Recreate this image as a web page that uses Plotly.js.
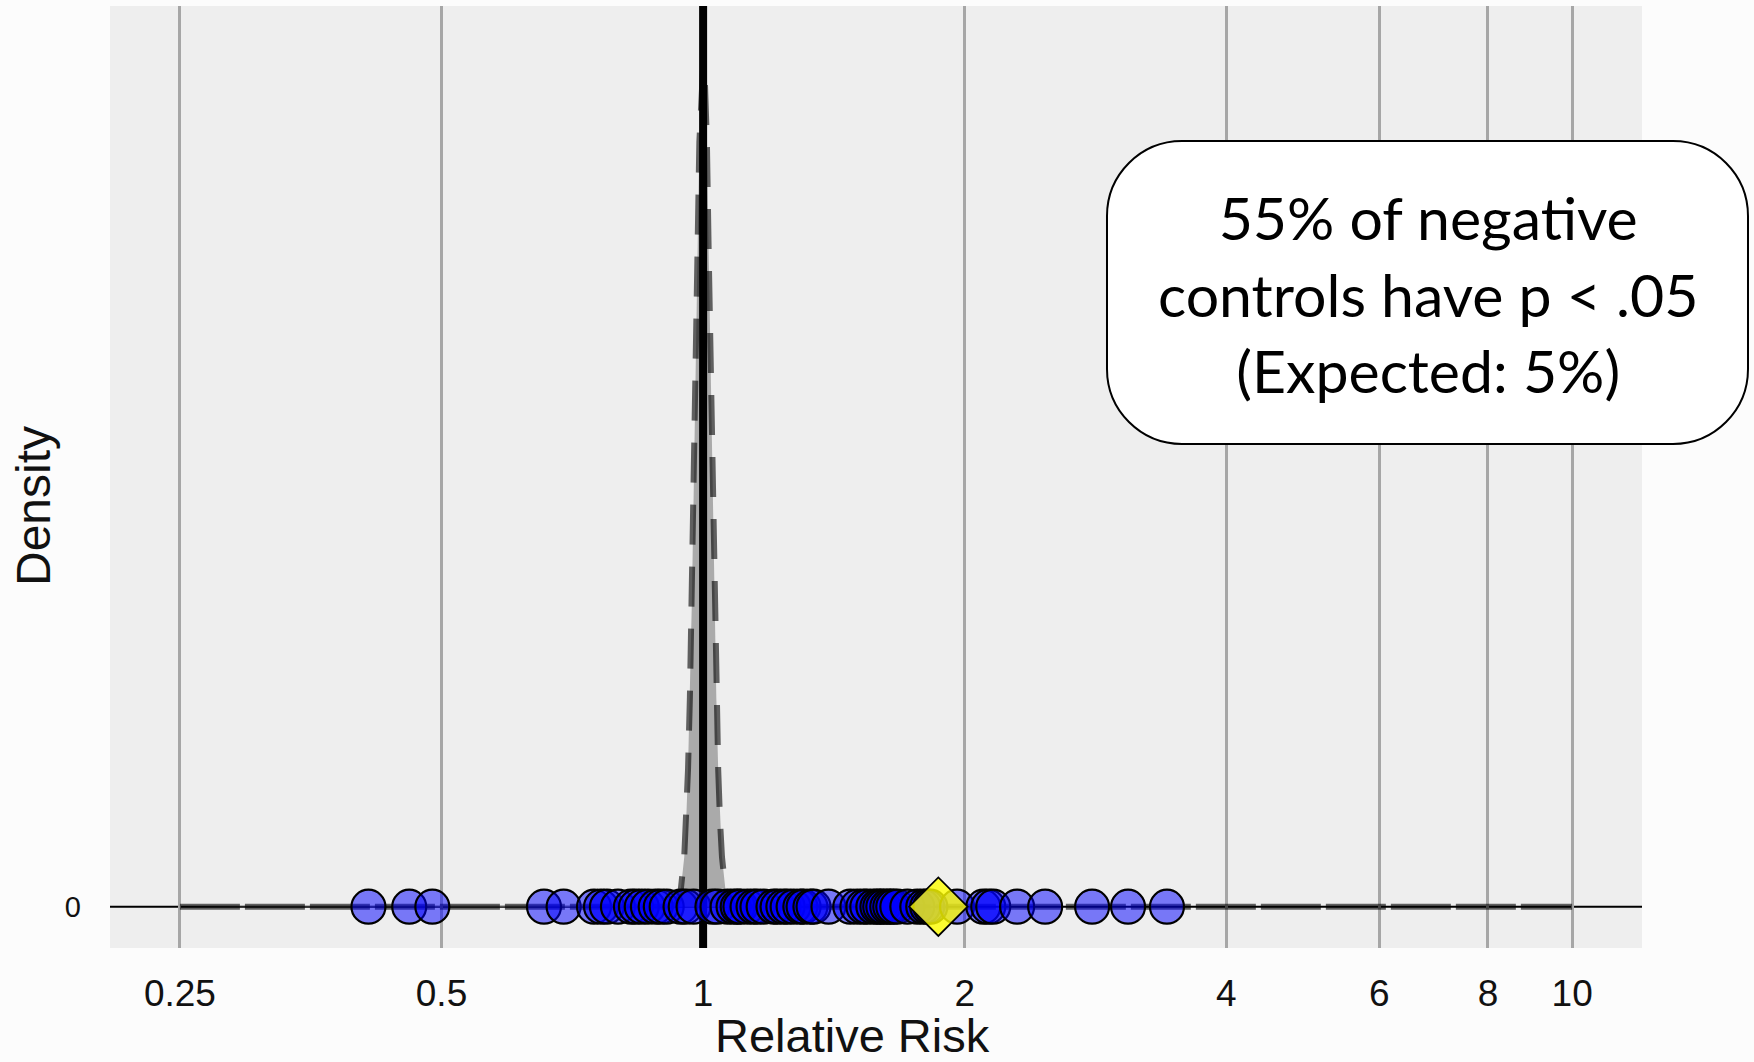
<!DOCTYPE html>
<html>
<head>
<meta charset="utf-8">
<script src="https://cdn.plot.ly/plotly-3.0.1.min.js"></script>
<style>
  html, body { margin: 0; padding: 0; background: #FCFCFC; }
  #chart { width: 1754px; height: 1062px; }
</style>
</head>
<body>
<div id="chart"></div>
<script>
// ---------------- data ----------------
const tickValues = [0.25, 0.5, 1, 2, 4, 6, 8, 10];
const tickLabels = ["0.25", "0.5", "1", "2", "4", "6", "8", "10"];

// negative-control relative risk estimates
const negativeControlRR = [
  0.412, 0.459, 0.488,
  0.656, 0.691, 0.749, 0.763, 0.775, 0.798, 0.826, 0.837, 0.850, 0.864, 0.882, 0.894, 0.908, 0.942, 0.955, 0.975,
  1.025, 1.039, 1.067, 1.084, 1.096, 1.104, 1.125, 1.143, 1.155, 1.174, 1.205, 1.218, 1.237, 1.251, 1.271, 1.294, 1.305, 1.329, 1.340,
  1.394,
  1.477, 1.505, 1.529, 1.545, 1.570, 1.587, 1.599, 1.612, 1.629, 1.642, 1.655, 1.673, 1.718, 1.764, 1.792, 1.811, 1.826,
  1.960,
  2.101, 2.129, 2.157, 2.298, 2.475, 2.803, 3.083, 3.418
];

// estimate of interest (yellow diamond)
const focusRR = [1.865];

// fitted null distribution (density curve)
const densityRR = [0.25, 0.5, 0.8, 0.9048, 0.9231, 0.9324, 0.9418, 0.9512, 0.9560, 0.9608, 0.9656, 0.9705,
  0.9753, 0.9802, 0.9851, 0.9901, 0.9950, 1.0000, 1.0050, 1.0101, 1.0151, 1.0202, 1.0253, 1.0305,
  1.0356, 1.0408, 1.0460, 1.0513, 1.0618, 1.0725, 1.0833, 1.1052, 1.5, 4, 10];
const densityValue = [0, 0, 0, 0, 0.013, 0.073, 0.32, 1.12, 1.91, 3.10, 4.74, 6.85,
  9.35, 12.07, 14.72, 17.3, 18.6, 19.0, 18.6, 17.3, 14.72, 12.07, 9.35, 6.85,
  4.74, 3.10, 1.91, 1.12, 0.32, 0.073, 0.013, 0, 0, 0, 0];

const referenceRR = 1;

const boxLines = ["55% of negative", "controls have p &lt; .05", "(Expected: 5%)"];
const xTitle = "Relative Risk";
const yTitle = "Density";

// ---------------- layout geometry ----------------
const W = 1754, H = 1062;
const M = { l: 110, r: 112, t: 6, b: 114 };
const plotW = W - M.l - M.r, plotH = H - M.t - M.b;
const px2x = px => (px - M.l) / plotW;
const px2y = py => (H - M.b - py) / plotH;

function roundedRectPath(x0, y0, x1, y1, r) {
  const k = 0.5523 * r;
  const P = (x, y) => px2x(x).toFixed(5) + "," + px2y(y).toFixed(5);
  return "M" + P(x0 + r, y0) +
    " L" + P(x1 - r, y0) +
    " C" + P(x1 - r + k, y0) + " " + P(x1, y0 + r - k) + " " + P(x1, y0 + r) +
    " L" + P(x1, y1 - r) +
    " C" + P(x1, y1 - r + k) + " " + P(x1 - r + k, y1) + " " + P(x1 - r, y1) +
    " L" + P(x0 + r, y1) +
    " C" + P(x0 + r - k, y1) + " " + P(x0, y1 - r + k) + " " + P(x0, y1 - r) +
    " L" + P(x0, y0 + r) +
    " C" + P(x0, y0 + r - k) + " " + P(x0 + r - k, y0) + " " + P(x0 + r, y0) + " Z";
}

// split the density curve into the flat tails and the central peak (for dash styling)
const peakLo = 0.9048, peakHi = 1.1052;
function subset(cond) {
  const xs = [], ys = [];
  densityRR.forEach((v, i) => { if (cond(v)) { xs.push(v); ys.push(densityValue[i]); } });
  return { x: xs, y: ys };
}
const leftTail = subset(v => v <= peakLo);
const rightTail = subset(v => v >= peakHi);
const peak = subset(v => v >= peakLo && v <= peakHi);

const yMin = -0.935, yMax = 20.38;
const dashColor = "rgba(0,0,0,0.6)";

const traces = [
  { // null distribution fill
    x: densityRR, y: densityValue, type: "scatter", mode: "lines",
    fill: "tozeroy", fillcolor: "#AAAAAA",
    line: { width: 0, color: "rgba(0,0,0,0)" }, hoverinfo: "skip", showlegend: false
  },
  { x: leftTail.x, y: leftTail.y, type: "scatter", mode: "lines",
    line: { color: dashColor, width: 6, dash: "60px,5px" }, hoverinfo: "skip", showlegend: false },
  { x: rightTail.x, y: rightTail.y, type: "scatter", mode: "lines",
    line: { color: dashColor, width: 6, dash: "60px,5px" }, hoverinfo: "skip", showlegend: false },
  { x: peak.x, y: peak.y, type: "scatter", mode: "lines",
    line: { color: dashColor, width: 6, dash: "40px,22px" }, hoverinfo: "skip", showlegend: false },
  { // reference line at RR = 1
    x: [referenceRR, referenceRR], y: [yMin - 5, yMax + 5], type: "scatter", mode: "lines",
    line: { color: "#000000", width: 8 }, hoverinfo: "skip", showlegend: false
  },
  { // negative controls
    x: negativeControlRR, y: negativeControlRR.map(() => 0), type: "scatter", mode: "markers",
    marker: { symbol: "circle", size: 34, color: "rgba(0,0,255,0.5)", line: { color: "#000000", width: 2.2 } },
    showlegend: false, cliponaxis: false
  },
  { // estimate
    x: focusRR, y: focusRR.map(() => 0), type: "scatter", mode: "markers",
    marker: { symbol: "diamond", size: 45, color: "rgba(255,255,0,0.8)", line: { color: "#000000", width: 1.8 } },
    showlegend: false, cliponaxis: false
  }
];

const layout = {
  width: W, height: H,
  margin: M,
  paper_bgcolor: "#FCFCFC",
  plot_bgcolor: "#EEEEEE",
  showlegend: false,
  xaxis: {
    type: "log",
    range: [-0.6825, 1.0804],
    tickvals: tickValues, ticktext: tickLabels,
    showgrid: true, gridcolor: "#A6A6A6", gridwidth: 3,
    zeroline: false, showline: false, ticks: "",
    ticklabelstandoff: 20,
    tickfont: { family: "Liberation Sans, Arial, sans-serif", size: 37, color: "#111111" }
  },
  yaxis: {
    range: [yMin, yMax],
    tickvals: [0], ticktext: ["0"],
    showgrid: false, zeroline: false, showline: false, ticks: "",
    ticklabelstandoff: 28,
    tickfont: { family: "Liberation Sans, Arial, sans-serif", size: 29, color: "#111111" }
  },
  shapes: [
    { type: "line", xref: "paper", yref: "y", x0: 0, x1: 1, y0: 0, y1: 0,
      line: { color: "#000000", width: 2 }, layer: "between" },
    { type: "path", xref: "paper", yref: "paper",
      path: roundedRectPath(1107, 141, 1748, 444, 75),
      fillcolor: "#FFFFFF", line: { color: "#000000", width: 2 }, layer: "above" }
  ],
  annotations: [
    { xref: "paper", yref: "paper", x: px2x(1427.5), y: px2y(294), xanchor: "center", yanchor: "middle",
      text: boxLines.join("<br>"), showarrow: false, align: "center",
      font: { family: "Lato, 'Open Sans', sans-serif", size: 59, color: "#000000" } },
    { xref: "paper", yref: "paper", x: px2x(852), y: px2y(1035), xanchor: "center", yanchor: "middle",
      text: xTitle, showarrow: false,
      font: { family: "Liberation Sans, Arial, sans-serif", size: 47, color: "#111111" } },
    { xref: "paper", yref: "paper", x: px2x(33), y: px2y(506), xanchor: "center", yanchor: "middle",
      text: yTitle, showarrow: false, textangle: -90,
      font: { family: "Liberation Sans, Arial, sans-serif", size: 48, color: "#111111" } }
  ]
};

Plotly.newPlot("chart", traces, layout, { displayModeBar: false, staticPlot: true });
</script>
</body>
</html>
